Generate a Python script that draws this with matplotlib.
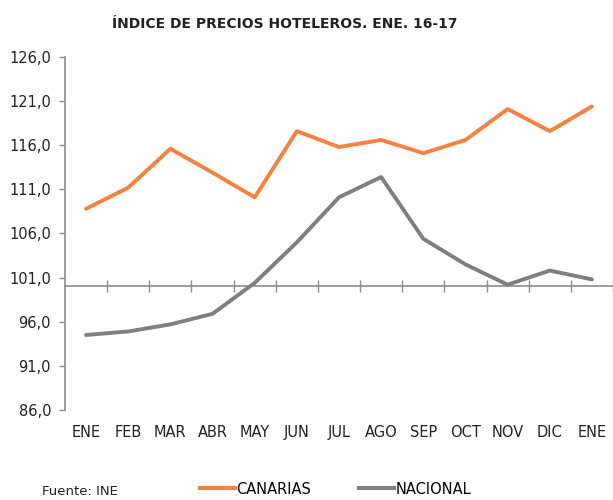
import matplotlib
matplotlib.use("Agg")
import matplotlib.pyplot as plt
import matplotlib.transforms as mtransforms
from matplotlib.lines import Line2D

meses = ["ENE", "FEB", "MAR", "ABR", "MAY", "JUN", "JUL", "AGO", "SEP",
         "OCT", "NOV", "DIC", "ENE"]
canarias = [108.8, 111.2, 115.6, 112.9, 110.1, 117.6, 115.8, 116.6, 115.1,
            116.6, 120.1, 117.6, 120.4]
nacional = [94.5, 94.9, 95.7, 96.9, 100.4, 105.0, 110.1, 112.4, 105.4,
            102.5, 100.2, 101.8, 100.8]
yticks = [86, 91, 96, 101, 106, 111, 116, 121, 126]

NARANJA = "#F7813F"
GRIS = "#7F7F7F"
EJE = "#8C8C8C"
TXT = "#222222"

fig = plt.figure(figsize=(6.13, 5.0), dpi=100)
fig.patch.set_facecolor("white")
ax = fig.add_axes([0.106, 0.18, 0.894, 0.706])

x = list(range(len(meses)))
ax.plot(x, canarias, color=NARANJA, lw=2.8, solid_joinstyle="round",
        solid_capstyle="round", zorder=3)
ax.plot(x, nacional, color=GRIS, lw=2.8, solid_joinstyle="round",
        solid_capstyle="round", zorder=3)

ax.set_xlim(-0.5, len(meses) - 0.5)
ax.set_ylim(86, 126)
ax.set_yticks(yticks)
ax.set_yticklabels([f"{v:.1f}".replace(".", ",") for v in yticks],
                   fontsize=10.5, color=TXT)
ax.tick_params(axis="y", length=4, width=1, color=EJE, pad=6)

for s in ("top", "right"):
    ax.spines[s].set_visible(False)
ax.spines["left"].set_color(EJE)
ax.spines["left"].set_linewidth(1.2)
ax.spines["bottom"].set_position(("data", 100))
ax.spines["bottom"].set_color(EJE)
ax.spines["bottom"].set_linewidth(1.2)

# marcas del eje X en los limites de categoria
ax.set_xticks([i + 0.5 for i in range(len(meses))])
ax.set_xticklabels([])
ax.tick_params(axis="x", direction="inout", length=8, width=1, color=EJE)

trans = mtransforms.blended_transform_factory(ax.transData, ax.transAxes)
for i, m in enumerate(meses):
    ax.text(i, -0.065, m, transform=trans, ha="center", va="center",
            fontsize=10.5, color=TXT)

fig.text(0.465, 0.953, "ÍNDICE DE PRECIOS HOTELEROS. ENE. 16-17",
         ha="center", va="center", fontsize=10, fontweight="bold",
         color=TXT)

handles = [Line2D([], [], color=NARANJA, lw=3),
           Line2D([], [], color=GRIS, lw=3)]
fig.legend(handles, ["CANARIAS", "NACIONAL"], loc="center",
           bbox_to_anchor=(0.547, 0.022), ncol=2, frameon=False,
           fontsize=10.5, handlelength=2.4, handletextpad=0.1,
           columnspacing=3.3)

fig.text(0.068, 0.017, "Fuente: INE", ha="left", va="center",
         fontsize=9.5, color=TXT)

fig.savefig("out.png", dpi=100, facecolor="white")
